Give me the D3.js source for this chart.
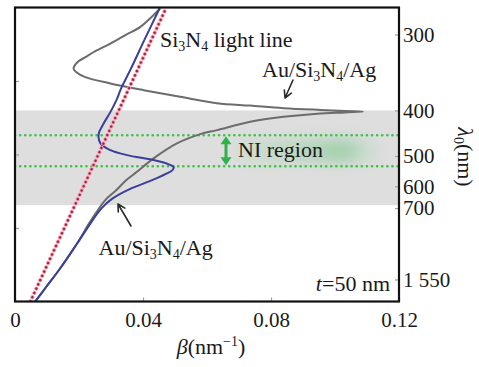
<!DOCTYPE html>
<html>
<head>
<meta charset="utf-8">
<script src="https://cdn.jsdelivr.net/npm/d3@7"></script>
<style>
  html, body { margin: 0; padding: 0; background: #fff; }
  svg { display: block; font-family: "Liberation Serif", "Times New Roman", serif; }
  svg text { font-family: "Liberation Serif", "Times New Roman", serif; fill: #1a1a1a; }
</style>
</head>
<body>
<svg id="chart" width="479" height="367"></svg>
<script>
const SERIF = '"Liberation Serif", "Times New Roman", serif';

// Photon energy constant: E(eV) = HC / λ(nm)
const HC = 1239.84;

// Wavelength window of the vertical axis (nm), bottom → top
const lambdaDomain = [2479.7, 275.52];

// Horizontal axis (propagation constant β, nm^-1)
const betaDomain = [0, 0.12];
const betaTicks = [0, 0.04, 0.08, 0.12];

// Right axis tick labels (free-space wavelength, nm)
const lambdaTicks = [300, 400, 500, 600, 700, 1550];
// Left axis tick marks (photon energy, eV)
const energyTicks = [1.5, 2.5, 3.5];

// Visible band and the negative-index (NI) window, nm
const visibleBand = [400, 685];
const niBounds = [449, 530];

// Si3N4 light line end points
const lightLambda = [2479.7, 275.52];
const lightBeta = [0.0048, 0.0473];

// Au/Si3N4/Ag – upper (gray) branch
const grayLambda = [276.1, 284.7, 292.7, 300.7, 309.2, 317.4, 324.2, 330.1, 337.8, 342.5,
  349.0, 357.6, 367.3, 377.5, 387.6, 391.7, 396.0, 399.1, 400.9, 402.1, 403.5, 405.7,
  411.6, 421.1, 437.8, 446.4, 467.7, 506.7, 547.4, 576.2, 615.0, 659.5, 716.5, 791.1,
  957.1, 1297.6, 1813.7, 2479.7];
const grayBeta = [0.0454, 0.0423, 0.0392, 0.0345, 0.0298, 0.0251, 0.0220, 0.0195, 0.0183, 0.0192,
  0.0220, 0.0298, 0.0402, 0.0516, 0.0631, 0.0735, 0.0839, 0.0954, 0.1032, 0.1088, 0.1032, 0.0944,
  0.0839, 0.0735, 0.0631, 0.0579, 0.0506, 0.0433, 0.0381, 0.0348, 0.0317, 0.0282, 0.0257, 0.0232,
  0.0195, 0.0142, 0.0095, 0.0063];

// Au/Si3N4/Ag – lower (blue) branch
const blueLambda = [276.1, 303.7, 339.9, 364.4, 382.7, 403.0, 424.2, 442.1, 453.1, 467.7,
  484.4, 497.6, 511.5, 523.3, 532.4, 541.9, 555.1, 579.1, 610.1, 653.8, 700.0, 764.5,
  957.1, 1297.6, 1813.7, 2479.7];
const blueBeta = [0.0452, 0.0407, 0.0360, 0.0332, 0.0317, 0.0298, 0.0277, 0.0263, 0.0261, 0.0267,
  0.0298, 0.0350, 0.0433, 0.0479, 0.0496, 0.0492, 0.0470, 0.0423, 0.0360, 0.0303, 0.0271, 0.0245,
  0.0195, 0.0142, 0.0095, 0.0063];

// ---- layout ----
const plot = { left: 15, right: 399, top: 7.5, bottom: 301.5 };
const svg = d3.select("#chart");

const x = d3.scaleLinear().domain(betaDomain).range([plot.left, plot.right]);
// the vertical axis is linear in inverse wavelength (i.e. in photon energy)
const yInv = d3.scaleLinear()
  .domain(lambdaDomain.map(l => 1 / l))
  .range([plot.bottom, plot.top]);
const y = l => yInv(1 / l);

const defs = svg.append("defs");
defs.append("clipPath").attr("id", "clip").append("rect")
  .attr("x", plot.left).attr("y", plot.top)
  .attr("width", plot.right - plot.left).attr("height", plot.bottom - plot.top);
const blur = defs.append("filter").attr("id", "haze")
  .attr("x", "-50%").attr("y", "-100%").attr("width", "200%").attr("height", "300%");
blur.append("feGaussianBlur").attr("stdDeviation", 7);
const grad = defs.append("linearGradient").attr("id", "hazeGrad");
grad.append("stop").attr("offset", "0%").attr("stop-color", "#a9dcb0").attr("stop-opacity", 0.25);
grad.append("stop").attr("offset", "72%").attr("stop-color", "#6cc27f").attr("stop-opacity", 0.55);
grad.append("stop").attr("offset", "100%").attr("stop-color", "#a9dcb0").attr("stop-opacity", 0.0);

const g = svg.append("g").attr("clip-path", "url(#clip)");

// visible band
g.append("rect")
  .attr("x", plot.left).attr("width", plot.right - plot.left)
  .attr("y", y(visibleBand[0])).attr("height", y(visibleBand[1]) - y(visibleBand[0]))
  .attr("fill", "#dedede");

// green haze behind the NI label
g.append("rect")
  .attr("x", 236).attr("width", 150)
  .attr("y", y(niBounds[0]) + 4).attr("height", y(niBounds[1]) - y(niBounds[0]) - 8)
  .attr("fill", "url(#hazeGrad)").attr("filter", "url(#haze)");

// NI window boundaries
g.selectAll("line.ni").data(niBounds).join("line")
  .attr("class", "ni")
  .attr("x1", plot.left).attr("x2", plot.right)
  .attr("y1", d => y(d)).attr("y2", d => y(d))
  .attr("stroke", "#3ec04a").attr("stroke-width", 2.6)
  .attr("stroke-linecap", "round").attr("stroke-dasharray", "0.1 5");

const line = d3.line().curve(d3.curveCatmullRom.alpha(0.5));
const pts = (ls, bs) => ls.map((l, i) => [x(bs[i]), y(l)]);

g.append("path").attr("d", line(pts(grayLambda, grayBeta)))
  .attr("fill", "none").attr("stroke", "#6c6c6c").attr("stroke-width", 2);
g.append("path").attr("d", line(pts(blueLambda, blueBeta)))
  .attr("fill", "none").attr("stroke", "#3a3f9c").attr("stroke-width", 2);

// light line (dotted)
g.append("path").attr("d", d3.line()(pts(lightLambda, lightBeta)))
  .attr("fill", "none").attr("stroke", "#f2a0b4").attr("stroke-width", 4.2)
  .attr("stroke-linecap", "round").attr("stroke-dasharray", "0.1 4.6");
g.append("path").attr("d", d3.line()(pts(lightLambda, lightBeta)))
  .attr("fill", "none").attr("stroke", "#a8203c").attr("stroke-width", 2.4)
  .attr("stroke-linecap", "round").attr("stroke-dasharray", "0.1 4.6");

// ---- axes ----
const tickColor = "#a0a0a0";
const fs = 21;

const bottomAxis = d3.axisBottom(x).tickValues(betaTicks)
  .tickFormat(d => d === 0 ? "0" : d3.format(".2f")(d))
  .tickSize(-4).tickPadding(10.5);
const gb = svg.append("g").attr("transform", `translate(0,${plot.bottom})`).call(bottomAxis);

const rightAxis = d3.axisRight(yInv).tickValues(lambdaTicks.map(l => 1 / l))
  .tickFormat(v => { const l = Math.round(1 / v); return l >= 1000 ? String(l).replace(/(\d)(\d{3})$/, "$1 $2") : String(l); })
  .tickSize(-4).tickPadding(4);
const gr = svg.append("g").attr("transform", `translate(${plot.right},0)`).call(rightAxis);

const leftAxis = d3.axisLeft(yInv).tickValues(energyTicks.map(e => e / HC))
  .tickFormat("").tickSize(-4);
const gl = svg.append("g").attr("transform", `translate(${plot.left},0)`).call(leftAxis);

[gb, gr, gl].forEach(a => {
  a.attr("font-family", SERIF).attr("font-size", fs);
  a.select(".domain").remove();
  a.selectAll(".tick line").attr("stroke", tickColor).attr("stroke-width", 1.2);
  a.selectAll(".tick text").attr("font-size", fs)
    .style("font-family", SERIF).attr("fill", "#1a1a1a");
});

// frame
svg.append("rect")
  .attr("x", plot.left).attr("y", plot.top)
  .attr("width", plot.right - plot.left).attr("height", plot.bottom - plot.top)
  .attr("fill", "none").attr("stroke", "#111").attr("stroke-width", 2.2);

// ---- annotations ----
const labelFs = 22;
const sub = 14;
function label(xp, yp) {
  return svg.append("text").attr("x", xp).attr("y", yp)
    .attr("font-size", labelFs).style("font-family", SERIF);
}
function chem(sel) {
  // writes "Au/Si3N4/Ag"
  sel.append("tspan").text("Au/Si");
  sel.append("tspan").attr("font-size", sub).attr("dy", 4).text("3");
  sel.append("tspan").attr("dy", -4).text("N");
  sel.append("tspan").attr("font-size", sub).attr("dy", 4).text("4");
  sel.append("tspan").attr("dy", -4).text("/Ag");
}

const ll = label(160, 47);
ll.append("tspan").text("Si");
ll.append("tspan").attr("font-size", sub).attr("dy", 4).text("3");
ll.append("tspan").attr("dy", -4).text("N");
ll.append("tspan").attr("font-size", sub).attr("dy", 4).text("4");
ll.append("tspan").attr("dy", -4).text(" light line");

label(262, 77).call(chem);
label(98.5, 255).call(chem);

// arrows pointing to the branches
function arrow(x1, y1, x2, y2) {
  const a = Math.atan2(y2 - y1, x2 - x1), h = 8, w = 0.5;
  const p1 = [x2 - h * Math.cos(a - w), y2 - h * Math.sin(a - w)];
  const p2 = [x2 - h * Math.cos(a + w), y2 - h * Math.sin(a + w)];
  svg.append("path")
    .attr("d", `M${x1},${y1}L${x2},${y2}M${p1}L${x2},${y2}L${p2}`)
    .attr("fill", "none").attr("stroke", "#2a2a2a").attr("stroke-width", 1.6)
    .attr("stroke-linecap", "round").attr("stroke-linejoin", "round");
}
arrow(293, 80, 285, 98);
arrow(131, 226, 118, 204);

// NI double arrow
const ax = 226, ya = y(niBounds[0]) + 1, yb = y(niBounds[1]) - 1;
svg.append("line").attr("x1", ax).attr("x2", ax).attr("y1", ya + 6).attr("y2", yb - 6)
  .attr("stroke", "#2fb24a").attr("stroke-width", 3);
svg.append("path").attr("d", `M${ax},${ya}L${ax - 5.5},${ya + 8}L${ax + 5.5},${ya + 8}Z`).attr("fill", "#2fb24a");
svg.append("path").attr("d", `M${ax},${yb}L${ax - 5.5},${yb - 8}L${ax + 5.5},${yb - 8}Z`).attr("fill", "#2fb24a");

label(238, 157).text("NI region");

const tl = label(390, 291).attr("text-anchor", "end");
tl.append("tspan").attr("font-style", "italic").text("t");
tl.append("tspan").text("=50 nm");

// axis titles
const bt = label(211, 354).attr("text-anchor", "middle");
bt.append("tspan").attr("font-style", "italic").text("β");
bt.append("tspan").text("(nm");
bt.append("tspan").attr("font-size", sub).attr("dy", -8).text("−1");
bt.append("tspan").attr("dy", 8).text(")");

const lt = label(0, 0).attr("transform", "translate(458,157) rotate(90)")
  .attr("text-anchor", "middle");
lt.append("tspan").attr("font-style", "italic").text("λ");
lt.append("tspan").attr("font-size", sub).attr("dy", 4).text("0");
lt.append("tspan").attr("dy", -4).text("(nm)");
</script>
</body>
</html>
